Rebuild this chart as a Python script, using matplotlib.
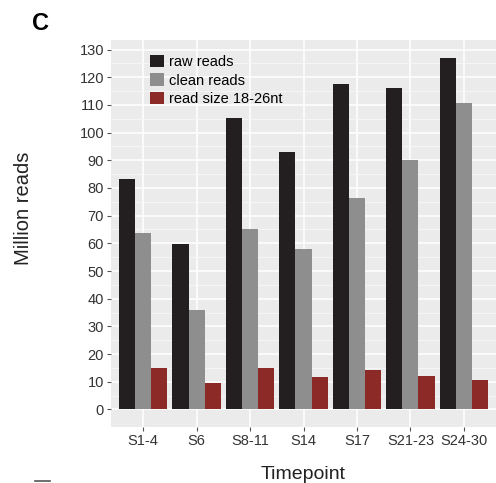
import matplotlib.pyplot as plt
import numpy as np
from matplotlib.patches import Patch
from matplotlib.lines import Line2D

plt.rcParams['font.family'] = ['Liberation Sans', 'DejaVu Sans']

timepoints = ['S1-4', 'S6', 'S8-11', 'S14', 'S17', 'S21-23', 'S24-30']
raw_reads = [83.2, 59.7, 105.4, 92.9, 117.4, 116.0, 127.1]
clean_reads = [63.8, 35.8, 65.2, 57.8, 76.3, 90.0, 110.7]
small_reads = [14.8, 9.7, 14.8, 11.6, 14.3, 12.0, 10.6]

series = ['raw reads', 'clean reads', 'read size 18-26nt']
colors = ['#231f20', '#8e8e8e', '#8b2a27']

fig = plt.figure(figsize=(4.96, 4.83), dpi=100)
ax = fig.add_axes([111 / 496, 1 - 427 / 483, 385 / 496, 387 / 483])
ax.set_facecolor('#ebebeb')

x = np.arange(len(timepoints))
w = 0.3
for i, (vals, col) in enumerate(zip([raw_reads, clean_reads, small_reads], colors)):
    ax.bar(x + (i - 1) * w, vals, width=w, color=col, zorder=3, linewidth=0)

ymax = max(raw_reads)
pad = 0.05 * ymax
ax.set_ylim(-pad, ymax + pad)
ax.set_xlim(-0.6, len(timepoints) - 0.4)

# ggplot-style grid: major and minor white lines
ax.set_yticks(np.arange(0, 131, 10))
ax.set_yticks(np.arange(5, 131, 10), minor=True)
ax.set_xticks(x)
ax.set_xticklabels(timepoints)
ax.grid(which='major', color='white', linewidth=1.1, zorder=0)
ax.grid(which='minor', axis='y', color='#f7f7f7', linewidth=0.6, zorder=0)
ax.set_axisbelow(True)

for s in ax.spines.values():
    s.set_visible(False)
ax.tick_params(which='major', length=3, width=0.8, color='#555555',
               labelsize=10.5, labelcolor='#333333', pad=2)
ax.tick_params(which='minor', length=0)

ax.set_xlabel('Timepoint', fontsize=14, color='#222222')
ax.xaxis.set_label_coords(0.5, -0.10)
ax.set_ylabel('Million reads', fontsize=14.5, color='#222222', va='center')
ax.yaxis.set_label_coords(-0.228, (427 - 208) / 387)

handles = [Patch(facecolor=c, edgecolor='none') for c in colors]
ax.legend(handles, series, loc='upper left', bbox_to_anchor=(0.078, 0.985),
          frameon=False, fontsize=10.5, handlelength=0.95, handleheight=0.95,
          handletextpad=0.35, labelspacing=0.3, borderaxespad=0.2)

fig.text(32 / 496, 1 - 24 / 483, 'C', fontsize=17, fontweight='bold',
         ha='left', va='center')
fig.add_artist(Line2D([35 / 496, 50 / 496], [2 / 483, 2 / 483],
                      color='#555555', linewidth=1.2))

fig.savefig('out.png', dpi=100)
